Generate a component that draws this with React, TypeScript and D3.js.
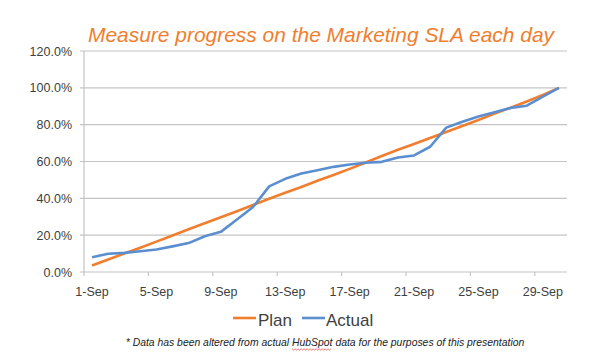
import React, { useEffect, useRef } from 'react';
import * as d3 from 'd3';

// days of September, one point per day
const days = d3.range(1, 31).map(d => `${d}-Sep`);
const plan = [3.5, 6.8, 10.0, 13.2, 16.5, 19.8, 23.2, 26.5, 29.7, 33.0, 36.4, 39.8, 43.0, 46.2, 49.5,
  52.7, 56.0, 59.5, 63.0, 66.4, 69.5, 72.8, 76.0, 79.3, 82.5, 86.0, 89.2, 92.6, 96.2, 100];
const actual = [8.0, 9.9, 10.4, 11.3, 12.2, 13.9, 15.7, 19.4, 21.8, 28.5, 35.3, 46.5, 50.6, 53.5, 55.3,
  57.1, 58.4, 59.3, 59.8, 62.2, 63.3, 68.0, 78.4, 81.6, 84.4, 86.7, 89.1, 90.3, 95.2, 100];
const yTicks = [0, 20, 40, 60, 80, 100, 120];
const xLabelEvery = 4;

const ORANGE = '#F07E2E';
const BLUE = '#5B8ECF';
const GRID = '#C4C4C4';
const TEXT = '#404040';
const FONT = '"Liberation Sans", Arial, sans-serif';

export default function App() {
  const noteRef = useRef<SVGTSpanElement | null>(null);
  const waveRef = useRef<SVGPathElement | null>(null);

  const left = 84, right = 567, top = 51, bottom = 272;
  const x = d3.scaleBand().domain(days).range([left, right]).padding(0);
  const y = d3.scaleLinear().domain([0, 120]).range([bottom, top]);
  const cx = (d: string) => x(d)! + x.bandwidth() / 2;

  const line = d3.line<number>()
    .x((_, i) => cx(days[i]))
    .y(v => y(v));

  // red spell-check squiggle under "HubSpot"
  useEffect(() => {
    const el = noteRef.current;
    if (!el || !waveRef.current) return;
    const x0 = el.getStartPositionOfChar(0).x;
    const w = el.getComputedTextLength();
    const pts: [number, number][] = [];
    for (let px = 0; px <= w; px += 1.5) pts.push([x0 + px, 349 + (Math.round(px / 1.5) % 2 ? 1 : -0.2)]);
    d3.select(waveRef.current).attr('d', d3.line()(pts));
  }, []);

  const tickDays = days.filter((_, i) => i % xLabelEvery === 0);

  return (
    <svg width={600} height={364} style={{ position: 'absolute', left: 0, top: 0, background: '#fff' }}
      fontFamily={FONT}>
      <text x={321} y={42} textAnchor="middle" fontSize={21} fontStyle="italic" fill={ORANGE}
        textLength={466} lengthAdjust="spacingAndGlyphs">
        Measure progress on the Marketing SLA each day
      </text>

      {yTicks.map(t => (
        <g key={t}>
          <line x1={80} x2={right} y1={y(t)} y2={y(t)} stroke={GRID} strokeWidth={1.2} />
          <text x={72} y={y(t) + 4.5} textAnchor="end" fontSize={12.5} fill={TEXT}>
            {d3.format('.1f')(t)}%
          </text>
        </g>
      ))}
      <line x1={left} x2={left} y1={top} y2={bottom} stroke={GRID} strokeWidth={1.2} />

      {tickDays.map(d => (
        <g key={d}>
          <line x1={x(d)!} x2={x(d)!} y1={bottom} y2={bottom + 4} stroke={GRID} strokeWidth={1.2} />
          <text x={cx(d)} y={296} textAnchor="middle" fontSize={12.5} fill={TEXT}>{d}</text>
        </g>
      ))}

      <path d={line(plan) ?? ''} fill="none" stroke={ORANGE} strokeWidth={2.6} strokeLinejoin="round" />
      <path d={line(actual) ?? ''} fill="none" stroke={BLUE} strokeWidth={2.6} strokeLinejoin="round" />

      <g fontSize={17} fill={TEXT}>
        <line x1={233} x2={256} y1={318} y2={318} stroke={ORANGE} strokeWidth={2.6} />
        <text x={258} y={326}>Plan</text>
        <line x1={302} x2={325} y1={318} y2={318} stroke={BLUE} strokeWidth={2.6} />
        <text x={326} y={326}>Actual</text>
      </g>

      <text x={325} y={346} textAnchor="middle" fontSize={10.4} fontStyle="italic" fill="#222">
        * Data has been altered from actual <tspan ref={noteRef}>HubSpot</tspan> data for the purposes of this presentation
      </text>
      <path ref={waveRef} fill="none" stroke="#E03030" strokeWidth={0.7} />
    </svg>
  );
}
